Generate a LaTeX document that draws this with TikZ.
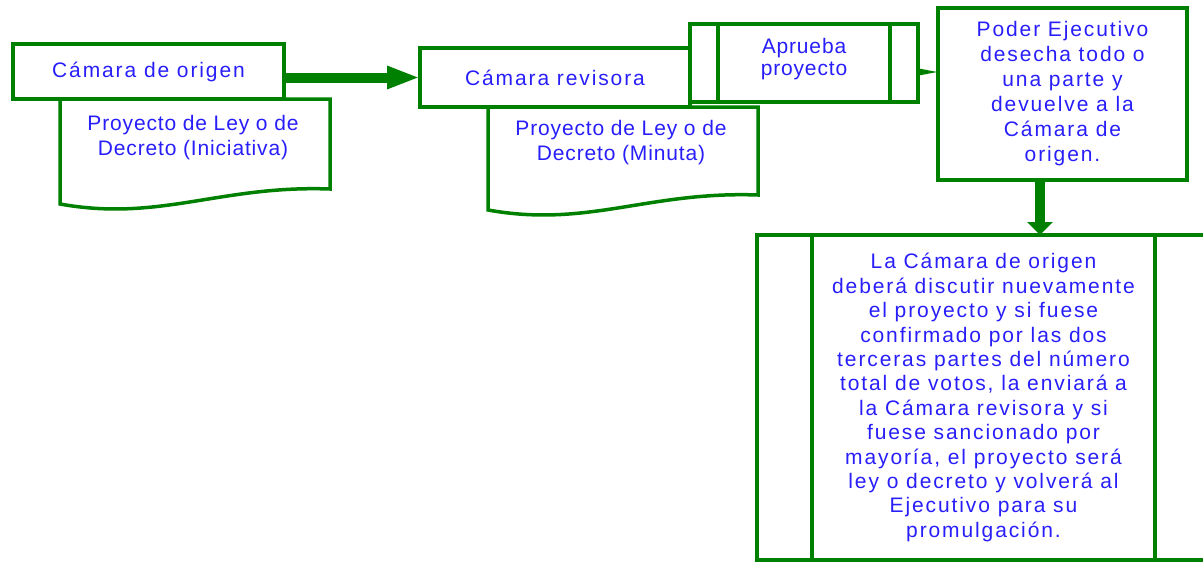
\documentclass[tikz,border=0pt]{standalone}
\usepackage{fontspec}
\setmainfont{Liberation Sans}
\newfontfamily\widefont[LetterSpace=9]{Liberation Sans}
\newfontfamily\tightfont[LetterSpace=4]{Liberation Sans}
\usetikzlibrary{arrows.meta}
\definecolor{gr}{RGB}{0,128,0}
\definecolor{tx}{RGB}{40,30,250}
\begin{document}
\begin{tikzpicture}[x=1pt,y=-1pt,
  box/.style={draw=gr, line width=3.5pt, inner sep=0pt, outer sep=0pt, align=center, text=tx},
  frame/.style={draw=gr, line width=3.5pt, line join=miter},
  wtext/.style={font=\widefont\fontsize{21}{24.5}\selectfont},
  ttext/.style={font=\tightfont\fontsize{21}{25}\selectfont},
  label/.style={text=tx, align=center, inner sep=0pt},
  connector/.style={draw=gr, line width=10pt},
]
\useasboundingbox (0,0) rectangle (1203,563);

% Camara de origen + document
\node[box, wtext, minimum width=271pt, minimum height=55pt] (orig) at (148.5,71.5) {Cámara de origen};
\draw[frame] (60,99) -- (330,99) -- (330,189) .. controls (220,185) and (160,222) .. (60,204) -- cycle;
\node[label, ttext, anchor=north] (doc1) at (193,115) {Proyecto de Ley o de\\Decreto (Iniciativa)};

% Camara revisora + document
\node[box, wtext, minimum width=270pt, minimum height=59pt] (rev) at (555,77.5) {Cámara revisora};
\draw[frame] (488,107) -- (758,107) -- (758,195) .. controls (648,191) and (588,228) .. (488,210) -- cycle;
\node[label, ttext, anchor=north] (doc2) at (621,120) {Proyecto de Ley o de\\Decreto (Minuta)};

% Aprueba proyecto
\node[box, minimum width=228pt, minimum height=78pt] (apr) at (804,63) {};
\draw[frame] ([xshift=28pt]apr.north west) -- ([xshift=28pt]apr.south west);
\draw[frame] ([xshift=-28pt]apr.north east) -- ([xshift=-28pt]apr.south east);
\node[label, font=\tightfont\fontsize{21}{21.5}\selectfont, yshift=4pt] (aprtxt) at (apr.center) {Aprueba\\proyecto};

% Poder Ejecutivo
\node[box, wtext, minimum width=249pt, minimum height=172pt, font=\widefont\fontsize{21}{25}\selectfont] (poder) at (1062.5,94) {Poder Ejecutivo\\desecha todo o\\una parte y\\devuelve a la\\Cámara de\\origen.};

% Big box
\node[box, wtext, minimum width=453pt, minimum height=325pt, font=\widefont\fontsize{21}{24.4}\selectfont] (big) at (983.5,397.5) {La Cámara de origen\\deberá discutir nuevamente\\el proyecto y si fuese\\confirmado por las dos\\terceras partes del número\\total de votos, la enviará a\\la Cámara revisora y si\\fuese sancionado por\\mayoría, el proyecto será\\ley o decreto y volverá al\\Ejecutivo para su\\promulgación.};
\draw[frame] ([xshift=55pt]big.north west) -- ([xshift=55pt]big.south west);
\draw[frame] ([xshift=-55pt]big.north east) -- ([xshift=-55pt]big.south east);

% connectors
\draw[connector, -{Triangle[length=33pt,width=21pt]}] (orig.east |- rev.west) -- (rev.west);
\draw[draw=gr, line width=2pt, -{Triangle[length=18pt,width=6pt]}] ([yshift=-9pt]apr.east) -- ([yshift=-9pt]apr.east -| poder.west);
\draw[connector, -{Triangle[length=13pt,width=25pt]}] ([xshift=-22.5pt]poder.south) -- ([xshift=-22.5pt]poder.south |- big.north);
\end{tikzpicture}
\end{document}
